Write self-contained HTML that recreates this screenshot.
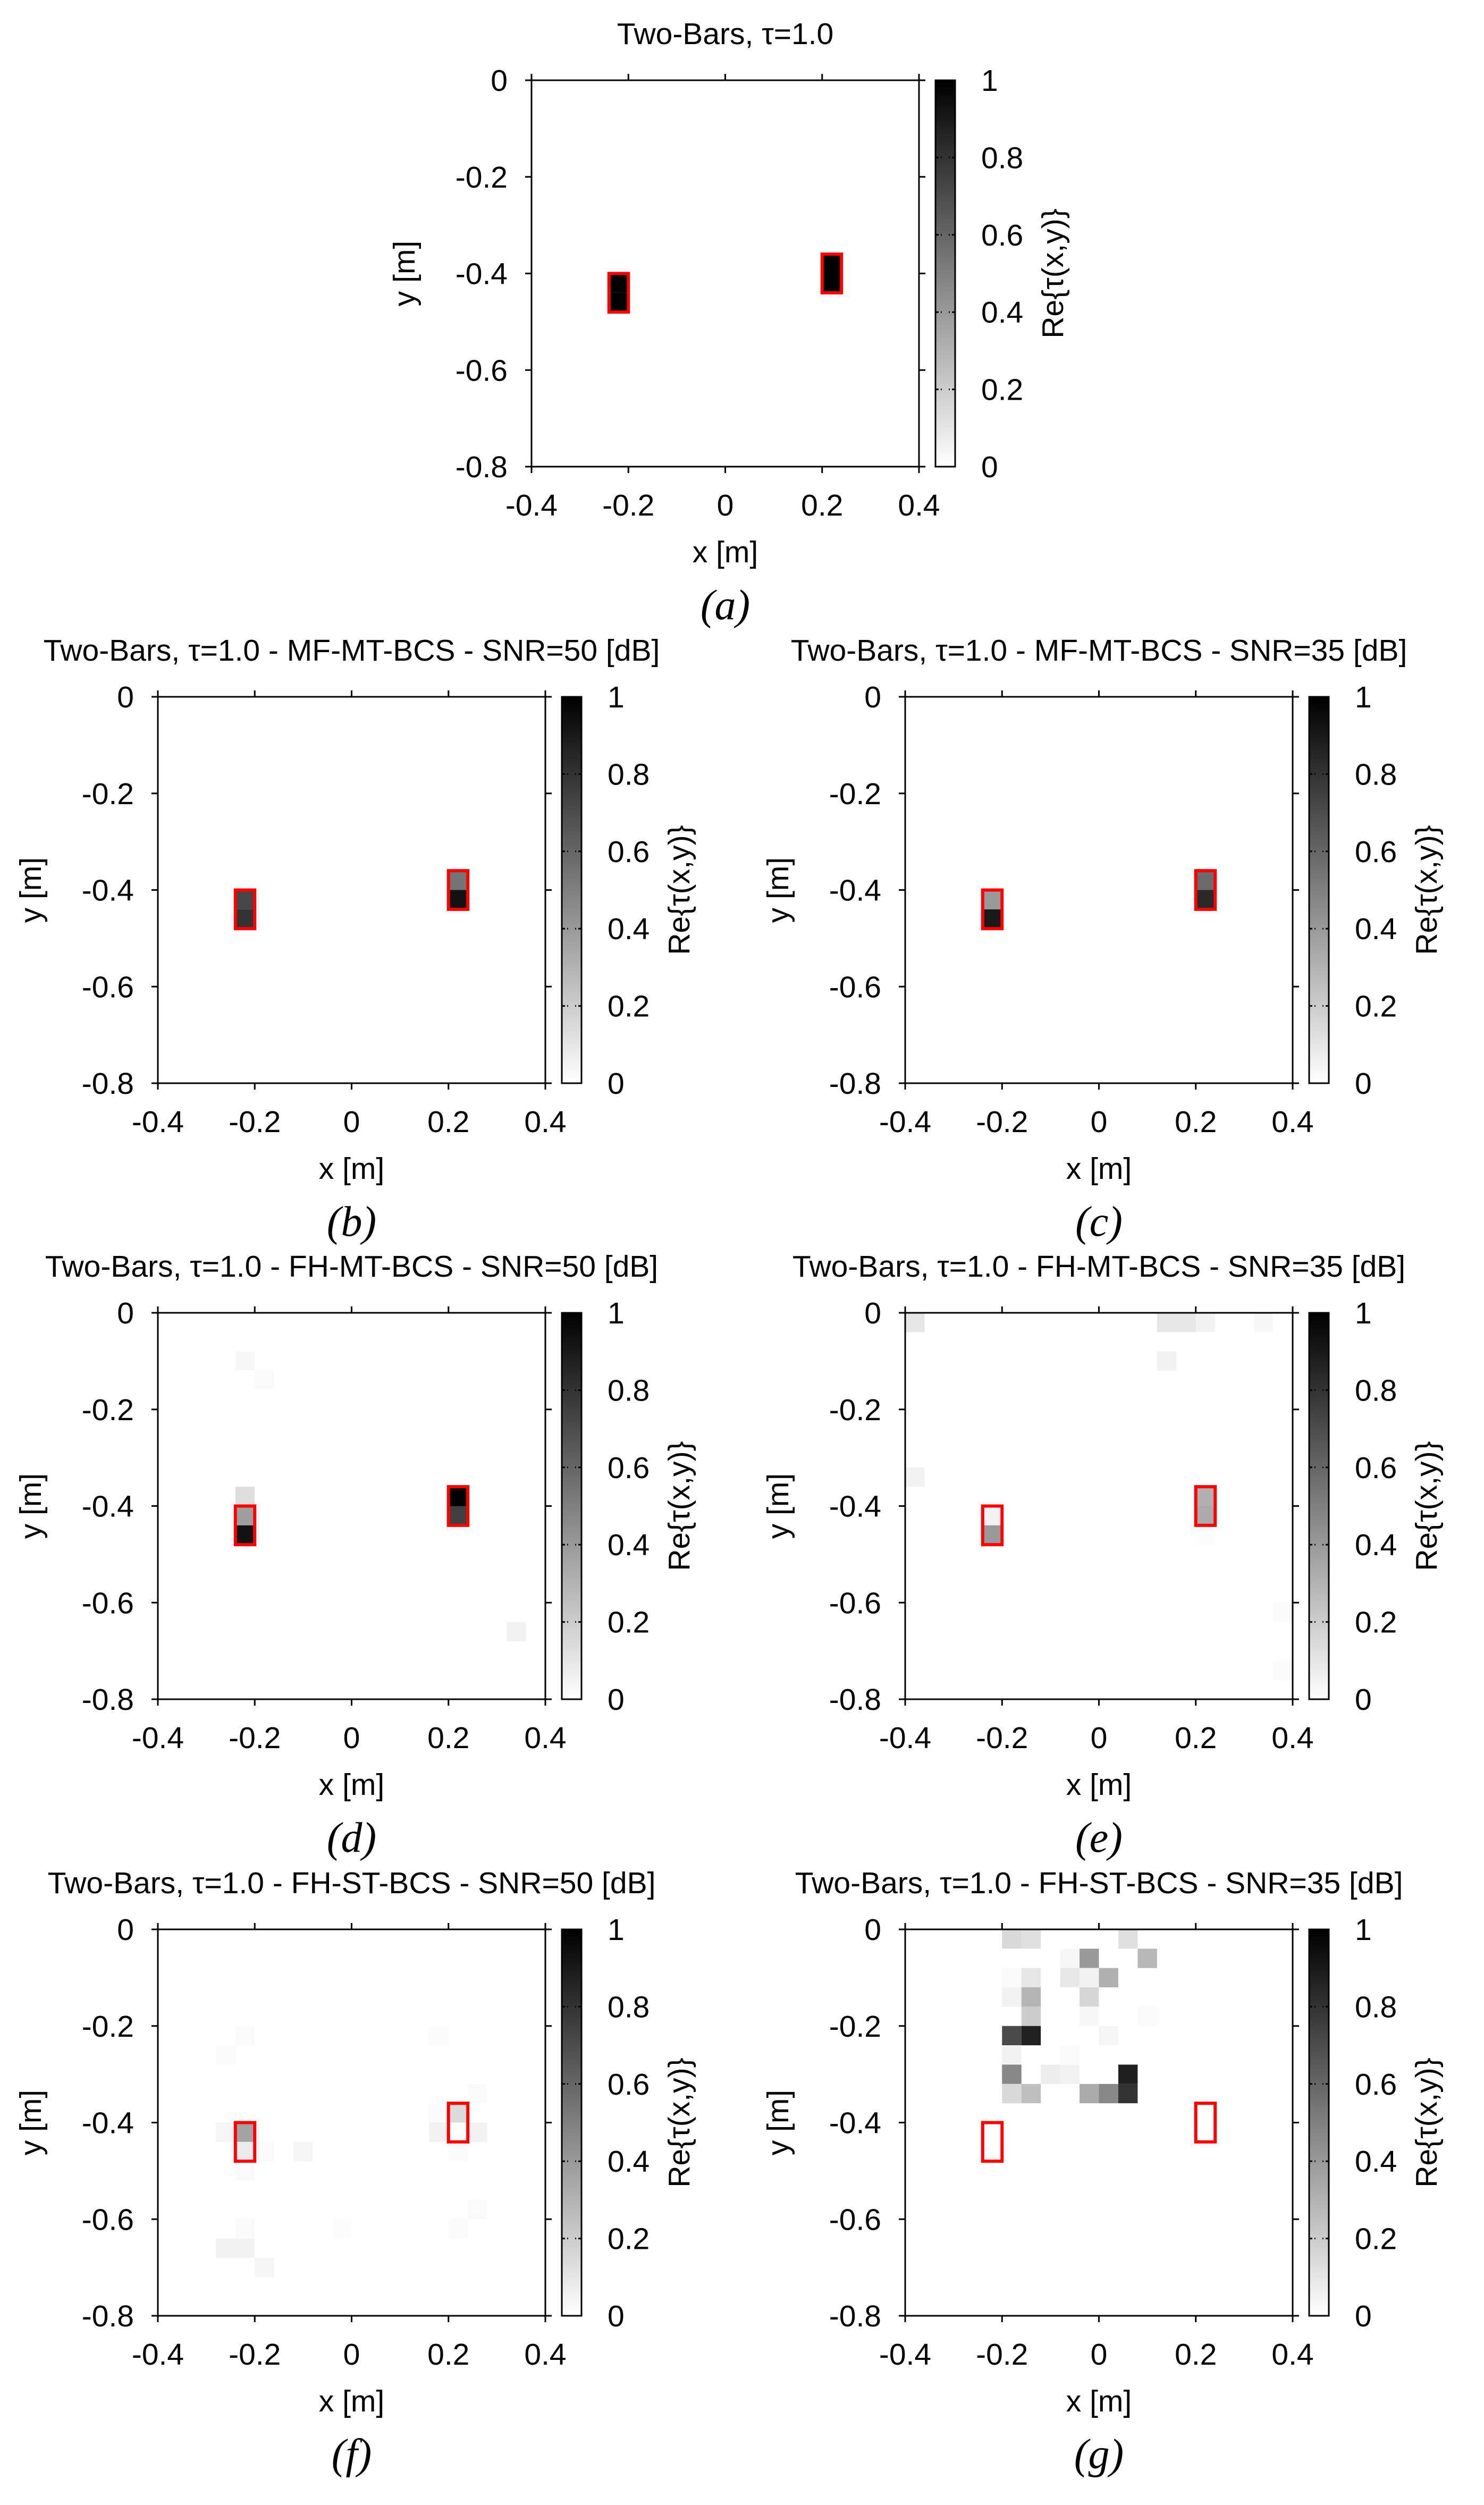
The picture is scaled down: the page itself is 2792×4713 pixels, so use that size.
<!DOCTYPE html>
<html><head><meta charset="utf-8">
<style>
html,body{margin:0;padding:0;background:#fff;}
svg{display:block;}
text{font-family:"Liberation Sans",sans-serif;fill:#000;}
.cap{font-family:"Liberation Serif",serif;font-style:italic;}
</style></head>
<body>
<svg id="fig" width="2792" height="4713" viewBox="0 0 2792 4713" xmlns="http://www.w3.org/2000/svg">
<defs>
<linearGradient id="gray" x1="0" y1="1" x2="0" y2="0">
<stop offset="0" stop-color="#ffffff"/><stop offset="1" stop-color="#000000"/>
</linearGradient>
</defs>
</svg>
<script>
// ---- data ----
const xTicks = [-0.4, -0.2, 0, 0.2, 0.4];
const yTicks = [0, -0.2, -0.4, -0.6, -0.8];
const cbTicks = [0, 0.2, 0.4, 0.6, 0.8, 1];
const targetsX0 = [-0.24, 0.20];
const targetsX1 = [-0.20, 0.24];
const targetsY0 = [-0.48, -0.44];
const targetsY1 = [-0.40, -0.36];
const titles = ["Two-Bars, \u03c4=1.0",
 "Two-Bars, \u03c4=1.0 - MF-MT-BCS - SNR=50 [dB]",
 "Two-Bars, \u03c4=1.0 - MF-MT-BCS - SNR=35 [dB]",
 "Two-Bars, \u03c4=1.0 - FH-MT-BCS - SNR=50 [dB]",
 "Two-Bars, \u03c4=1.0 - FH-MT-BCS - SNR=35 [dB]",
 "Two-Bars, \u03c4=1.0 - FH-ST-BCS - SNR=50 [dB]",
 "Two-Bars, \u03c4=1.0 - FH-ST-BCS - SNR=35 [dB]"];
const captions = ["a","b","c","d","e","f","g"];
// cells: column index (x), row index (y from top), value
const aCols = [4,4,15,15];
const aRows = [10,11,9,10];
const aVals = [1,1,1,1];
const bCols = [4,4,15,15];
const bRows = [10,11,9,10];
const bVals = [0.72,0.8,0.55,0.93];
const cCols = [4,4,15,15];
const cRows = [10,11,9,10];
const cVals = [0.4,0.9,0.58,0.84];
const dCols = [4,5,4,4,4,15,15,18];
const dRows = [2,3,9,10,11,9,10,16];
const dVals = [0.03,0.02,0.13,0.38,0.93,1.0,0.75,0.05];
const eCols = [0,13,14,15,18,13,0,4,4,15,15,15,19,19];
const eRows = [0,0,0,0,0,2,8,10,11,9,10,11,15,18];
const eVals = [0.1,0.1,0.1,0.05,0.03,0.05,0.05,0.05,0.4,0.31,0.33,0.01,0.02,0.02];
const fCols = [4,3,3,4,4,5,7,4,14,16,14,15,14,16,15,16,4,9,15,3,4,5];
const fRows = [5,6,10,10,11,11,11,12,5,8,9,9,10,10,11,14,15,15,15,16,16,17];
const fVals = [0.02,0.02,0.04,0.36,0.08,0.02,0.04,0.02,0.02,0.02,0.02,0.14,0.05,0.05,0.02,0.02,0.02,0.01,0.02,0.05,0.05,0.04];
const gCols = [5,6,11, 8,9,12, 5,6,8,9,10, 5,6,9, 6,9,12, 5,6,10, 5,8, 5,7,8,11, 5,6,9,10,11];
const gRows = [0,0,0, 1,1,1, 2,2,2,2,2, 3,3,3, 4,4,4, 5,5,5, 6,6, 7,7,7,7, 8,8,8,8,8];
const gVals = [0.15,0.12,0.12, 0.03,0.4,0.28, 0.02,0.1,0.09,0.05,0.31, 0.05,0.29,0.16, 0.2,0.03,0.02, 0.71,0.87,0.04, 0.05,0.02, 0.47,0.07,0.05,0.88, 0.15,0.25,0.33,0.47,0.8];

const panelCols = [aCols,bCols,cCols,dCols,eCols,fCols,gCols];
const panelRows = [aRows,bRows,cRows,dRows,eRows,fRows,gRows];
const panelVals = [aVals,bVals,cVals,dVals,eVals,fVals,gVals];

// ---- layout ----
const lefts = [1000,297,1703,297,1703,297,1703];
const tops = [151,1311,1311,2470,2470,3630,3630];
const PW = 729, PH = 727;
const FS = 57;
const NS = "http://www.w3.org/2000/svg";
const svg = document.getElementById('fig');
function el(tag, attrs, parent){
  const e = document.createElementNS(NS, tag);
  for (const k in attrs) e.setAttribute(k, attrs[k]);
  (parent||svg).appendChild(e);
  return e;
}
function grayOf(v){ const g = Math.round(255*(1-Math.max(0,Math.min(1,v)))); return `rgb(${g},${g},${g})`; }

for (let p = 0; p < 7; p++) {
  const L = lefts[p], T = tops[p], R = L + PW, B = T + PH;
  const sx = x => L + (x + 0.4) / 0.8 * PW;
  const sy = y => T + (-y) / 0.8 * PH;
  const g = el('g', {});
  
  

  const t = el('text', {x: L + PW/2, y: T - 68, 'font-size': FS, 'text-anchor': 'middle'}, g);
  t.textContent = titles[p];
  
  

  const cells = el('g', {}, g);
  
  
  const cs = panelCols[p], rs = panelRows[p], vs = panelVals[p];
  for (let i = 0; i < vs.length; i++) {
    const x0 = -0.4 + 0.04*cs[i], y0 = -0.04*rs[i];
    const rx = sx(x0), ry = sy(y0);
    const r = el('rect', {x: rx, y: ry, width: sx(x0+0.04)-rx, height: sy(y0-0.04)-ry, fill: grayOf(vs[i])}, cells);
    
    
  }
  for (let k = 0; k < 2; k++) {
    const x0 = sx(targetsX0[k]), x1 = sx(targetsX1[k]), y0 = sy(targetsY1[k]), y1 = sy(targetsY0[k]);
    const r = el('rect', {x: x0, y: y0, width: x1-x0, height: y1-y0, fill: 'none', stroke: '#ff0000', 'stroke-width': 6}, g);
    
    
  }
  const fr = el('rect', {x: L, y: T, width: PW, height: PH, fill: 'none', stroke: '#000', 'stroke-width': 3}, g);
  
  
  xTicks.forEach(v => {
    const x = sx(v);
    el('line', {x1: x, y1: B, x2: x, y2: B + 12, stroke: '#000', 'stroke-width': 3}, g);
    el('line', {x1: x, y1: T, x2: x, y2: T - 12, stroke: '#000', 'stroke-width': 3}, g);
    const lt = el('text', {x: x, y: B + 92, 'font-size': FS, 'text-anchor': 'middle'}, g);
    lt.textContent = String(v);
    
    
  });
  yTicks.forEach(v => {
    const y = sy(v);
    el('line', {x1: L, y1: y, x2: L - 12, y2: y, stroke: '#000', 'stroke-width': 3}, g);
    el('line', {x1: R, y1: y, x2: R + 12, y2: y, stroke: '#000', 'stroke-width': 3}, g);
    const lt = el('text', {x: L - 45, y: y + 20, 'font-size': FS, 'text-anchor': 'end'}, g);
    lt.textContent = String(v);
    
    
  });
  const xl = el('text', {x: L + PW/2, y: B + 180, 'font-size': FS, 'text-anchor': 'middle'}, g);
  xl.textContent = 'x [m]';
  
  
  const yl = el('text', {x: 0, y: 0, 'font-size': FS, 'text-anchor': 'middle', transform: `translate(${L-220},${T+PH/2}) rotate(-90)`}, g);
  yl.textContent = 'y [m]';
  
  
  const cbx = L + 760, cbw = 37;
  const cb = el('rect', {x: cbx, y: T, width: cbw, height: PH, fill: 'url(#gray)', stroke: '#000', 'stroke-width': 3}, g);
  
  
  const cy = v => B - v * PH;
  cbTicks.forEach(v => {
    const y = cy(v);
    if (v > 0 && v < 1) {
      el('line', {x1: cbx, y1: y, x2: cbx + 12, y2: y, stroke: '#000', 'stroke-width': 3, 'stroke-dasharray': '6,4'}, g);
      el('line', {x1: cbx + cbw, y1: y, x2: cbx + cbw - 12, y2: y, stroke: '#000', 'stroke-width': 3, 'stroke-dasharray': '6,4'}, g);
    }
    const lt = el('text', {x: L + 846, y: y + 20, 'font-size': FS}, g);
    lt.textContent = String(v);
    
    
  });
  const cbt = el('text', {x: 0, y: 0, 'font-size': FS, 'text-anchor': 'middle', transform: `translate(${L+1000},${T+PH/2}) rotate(-90)`}, g);
  cbt.textContent = 'Re{\u03c4(x,y)}';
  
  
  const cap = el('text', {x: L + PW/2, y: B + 287, 'font-size': 80, 'text-anchor': 'middle', class: 'cap'}, g);
  cap.textContent = '(' + captions[p] + ')';
  
  
}
</script>
</body></html>
